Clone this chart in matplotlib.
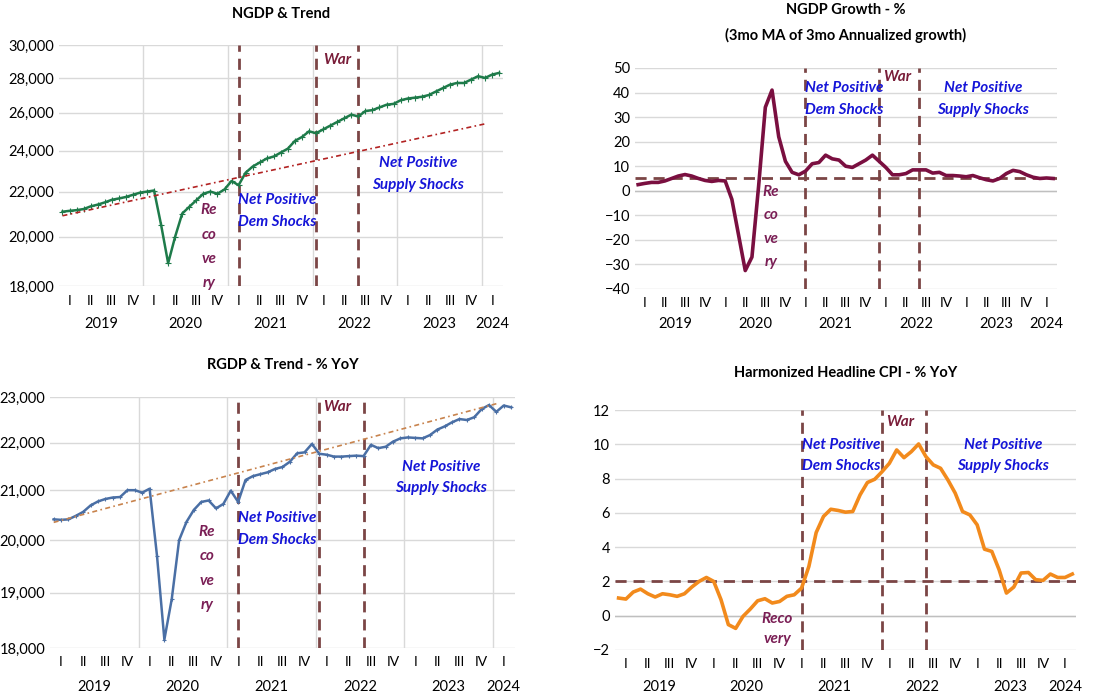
import matplotlib
matplotlib.use('Agg')
import matplotlib.pyplot as plt
import matplotlib.transforms as mtransforms
from matplotlib.ticker import FixedLocator, FuncFormatter, NullLocator

plt.rcParams['font.family'] = ['Lato', 'DejaVu Sans']

# monthly, Jan 2019 .. Mar 2024 (month index 0..62)
ngdp = [21080, 21120, 21150, 21200, 21320, 21400, 21500, 21620, 21680, 21750, 21850, 21950,
        22000, 22050, 20500, 18900, 20000, 21000, 21300, 21600, 21900, 22000, 21900, 22100,
        22500, 22300, 22900, 23200, 23400, 23600, 23700, 23900, 24100, 24500, 24700, 25000,
        24900, 25100, 25300, 25500, 25700, 25900, 25800, 26100, 26150, 26300, 26450, 26500,
        26700, 26800, 26850, 26900, 27000, 27200, 27400, 27600, 27700, 27700, 27900, 28100,
        28000, 28200, 28300]
ngdp_trend_x = [0, 60]
ngdp_trend = [20900, 25400]

ngdp_growth = [2.5, 3, 3.4, 3.4, 4, 5, 6, 6.6, 6, 5, 4.2, 3.8,
               4.2, 4, -3.5, -18, -32.5, -27, 2, 34, 41, 22, 12, 7.5,
               6.5, 8, 11, 11.5, 14.5, 13, 12.5, 10, 9.5, 11, 12.5, 14.5,
               12, 9.5, 6.5, 6.5, 7, 8.5, 8.5, 8.5, 7.2, 7.5, 6.2, 6.2,
               6, 5.7, 6.2, 5.3, 4.5, 4, 5, 7, 8.3, 7.8, 6.5, 5.5,
               5, 5.2, 5]
growth_target = 5

rgdp = [20410, 20400, 20410, 20480, 20560, 20690, 20770, 20820, 20850, 20860, 21000, 21000,
        20950, 21030, 19700, 18150, 18880, 20000, 20360, 20600, 20760, 20790, 20630, 20720,
        20990, 20760, 21210, 21290, 21330, 21370, 21440, 21480, 21590, 21770, 21790, 21970,
        21760, 21740, 21700, 21700, 21710, 21720, 21710, 21950, 21880, 21910, 22020, 22090,
        22110, 22100, 22090, 22160, 22280, 22350, 22440, 22510, 22490, 22550, 22730, 22820,
        22670, 22810, 22770]
rgdp_trend_x = [0, 60]
rgdp_trend = [20350, 22850]

cpi = [1.03, 0.97, 1.38, 1.55, 1.28, 1.09, 1.28, 1.22, 1.13, 1.28, 1.67, 2.0,
       2.23, 2.0, 0.93, -0.52, -0.74, -0.04, 0.39, 0.87, 0.99, 0.74, 0.83, 1.13,
       1.22, 1.61, 2.87, 4.85, 5.79, 6.21, 6.14, 6.04, 6.08, 7.05, 7.77, 7.96,
       8.4, 8.89, 9.67, 9.22, 9.57, 10.02, 9.28, 8.8, 8.6, 7.92, 7.15, 6.08,
       5.88, 5.3, 3.88, 3.75, 2.68, 1.32, 1.67, 2.49, 2.52, 2.1, 2.06, 2.43,
       2.23, 2.23, 2.43]
cpi_target = 2

years = ['2019', '2020', '2021', '2022', '2023', '2024']
quarters = ['I', 'II', 'III', 'IV']
shock_lines = [25, 36, 42]   # month index of the dashed markers

months = list(range(len(ngdp)))
n = len(months)

DASH = '#7B4545'
BLUE_TXT = '#1515D8'
WAR_TXT = '#7A1E3A'
REC_TXT = '#7A1E55'
GRID = '#D9D9D9'

fig = plt.figure(figsize=(11.04, 6.98), dpi=100)


def category_axis(ax, year_grid=False, yy=-0.155):
    ax.set_xlim(-0.5, n - 0.5)
    qpos = [m + 1 for m in range(0, n, 3)]
    ax.set_xticks(qpos)
    ax.set_xticklabels([quarters[(m // 3) % 4] for m in range(0, n, 3)])
    ax.tick_params(axis='x', length=0, labelsize=10, pad=6)
    trans = mtransforms.blended_transform_factory(ax.transData, ax.transAxes)
    for i, yr in enumerate(years):
        start = i * 12
        end = min(start + 11, n - 1)
        ax.text((start + end) / 2, yy, yr, transform=trans, ha='center', va='center', fontsize=10.5)
    if year_grid:
        for b in range(12, n, 12):
            ax.axvline(b - 0.5, color=GRID, lw=1, zorder=0)
    for s in ax.spines.values():
        s.set_visible(False)
    ax.tick_params(axis='y', length=0, labelsize=10.5)
    ax.yaxis.grid(True, color=GRID, lw=1)
    ax.set_axisbelow(True)
    for xv in shock_lines:
        ax.axvline(xv, color=DASH, lw=2, ls=(0, (4, 2.5)), zorder=3)


def annotate(ax, pos):
    trans = mtransforms.blended_transform_factory(ax.transData, ax.transAxes)
    kw = dict(transform=trans, fontweight='bold', style='italic', fontsize=11, zorder=5)
    for key, txt, col, ha, ls in [('dem', 'Net Positive\nDem Shocks', BLUE_TXT, 'left', 1.7),
                                  ('sup', 'Net Positive\nSupply Shocks', BLUE_TXT, 'center', 1.7),
                                  ('war', 'War', WAR_TXT, 'left', 1.6),
                                  ('rec', pos['rec_txt'], REC_TXT, 'center', pos.get('ls', 1.9))]:
        x, y = pos[key]
        ax.text(x, y, txt, color=col, ha=ha, va='top', linespacing=ls, **kw)


def thousands(v, p):
    return '{:,.0f}'.format(v)


# NGDP & Trend
ax1 = fig.add_axes([0.0534, 0.590, 0.402, 0.345])
ax1.set_yscale('log')
ax1.set_ylim(18000, 30000)
ax1.yaxis.set_major_locator(FixedLocator([18000, 20000, 22000, 24000, 26000, 28000, 30000]))
ax1.yaxis.set_major_formatter(FuncFormatter(thousands))
ax1.yaxis.set_minor_locator(NullLocator())
category_axis(ax1, year_grid=True)
ax1.plot(months, ngdp, color='#1E7B4A', lw=1.8, marker='+', ms=4, mew=0.8, zorder=4)
ax1.plot(ngdp_trend_x, ngdp_trend, color='#B22222', lw=1.2, ls=(0, (3, 2, 1, 2)), zorder=4)
ax1.set_title('NGDP & Trend', fontsize=10.5, fontweight='bold', pad=20)
annotate(ax1, {'dem': (24.9, 0.385), 'sup': (50.5, 0.54), 'war': (37.0, 0.97),
               'rec': (20.8, 0.345), 'rec_txt': 'Re\nco\nve\nry', 'ls': 1.95})

# NGDP Growth
ax2 = fig.add_axes([0.575, 0.586, 0.382, 0.3166])
ax2.set_ylim(-40, 50)
ax2.set_yticks(range(-40, 51, 10))
category_axis(ax2, yy=-0.16)
ax2.axhline(0, color='#BFBFBF', lw=1, zorder=1)
ax2.axhline(growth_target, color=DASH, lw=2, ls=(0, (4, 2.5)), zorder=3)
ax2.plot(months, ngdp_growth, color='#7A0F40', lw=2.6, zorder=4)
ax2.set_title('NGDP Growth - %\n(3mo MA of 3mo Annualized growth)', fontsize=10.5,
              fontweight='bold', pad=20, linespacing=1.9)
annotate(ax2, {'dem': (25.0, 0.94), 'sup': (51.5, 0.94), 'war': (36.6, 0.99),
               'rec': (19.8, 0.47), 'rec_txt': 'Re\nco\nve\nry', 'ls': 1.85})

# RGDP & Trend
ax3 = fig.add_axes([0.0453, 0.0716, 0.421, 0.3596])
ax3.set_yscale('log')
ax3.set_ylim(18000, 23000)
ax3.yaxis.set_major_locator(FixedLocator([18000, 19000, 20000, 21000, 22000, 23000]))
ax3.yaxis.set_major_formatter(FuncFormatter(thousands))
ax3.yaxis.set_minor_locator(NullLocator())
category_axis(ax3, year_grid=True)
ax3.plot(months, rgdp, color='#4A6FA5', lw=1.8, marker='+', ms=3.5, mew=0.8, zorder=4)
ax3.plot(rgdp_trend_x, rgdp_trend, color='#C8834D', lw=1.2, ls=(0, (3, 2, 1, 2)), zorder=4)
ax3.set_title('RGDP & Trend - % YoY', fontsize=10.5, fontweight='bold', pad=20)
annotate(ax3, {'dem': (25.0, 0.545), 'sup': (52.5, 0.75), 'war': (36.5, 0.99),
               'rec': (20.8, 0.49), 'rec_txt': 'Re\nco\nve\nry', 'ls': 1.95})

# Harmonized CPI
ax4 = fig.add_axes([0.557, 0.0688, 0.4176, 0.3438])
ax4.set_ylim(-2, 12)
ax4.set_yticks(range(-2, 13, 2))
category_axis(ax4)
ax4.axhline(0, color='#BFBFBF', lw=1, zorder=1)
ax4.axhline(cpi_target, color=DASH, lw=2, ls=(0, (4, 2.5)), zorder=3)
ax4.plot(months, cpi, color='#F28A1C', lw=2.6, zorder=4)
ax4.set_title('Harmonized Headline CPI - % YoY', fontsize=10.5, fontweight='bold', pad=24)
annotate(ax4, {'dem': (25.1, 0.885), 'sup': (52.5, 0.885), 'war': (36.6, 0.98),
               'rec': (21.7, 0.16), 'rec_txt': 'Reco\nvery', 'ls': 1.6})

fig.savefig('out.png', dpi=100)
